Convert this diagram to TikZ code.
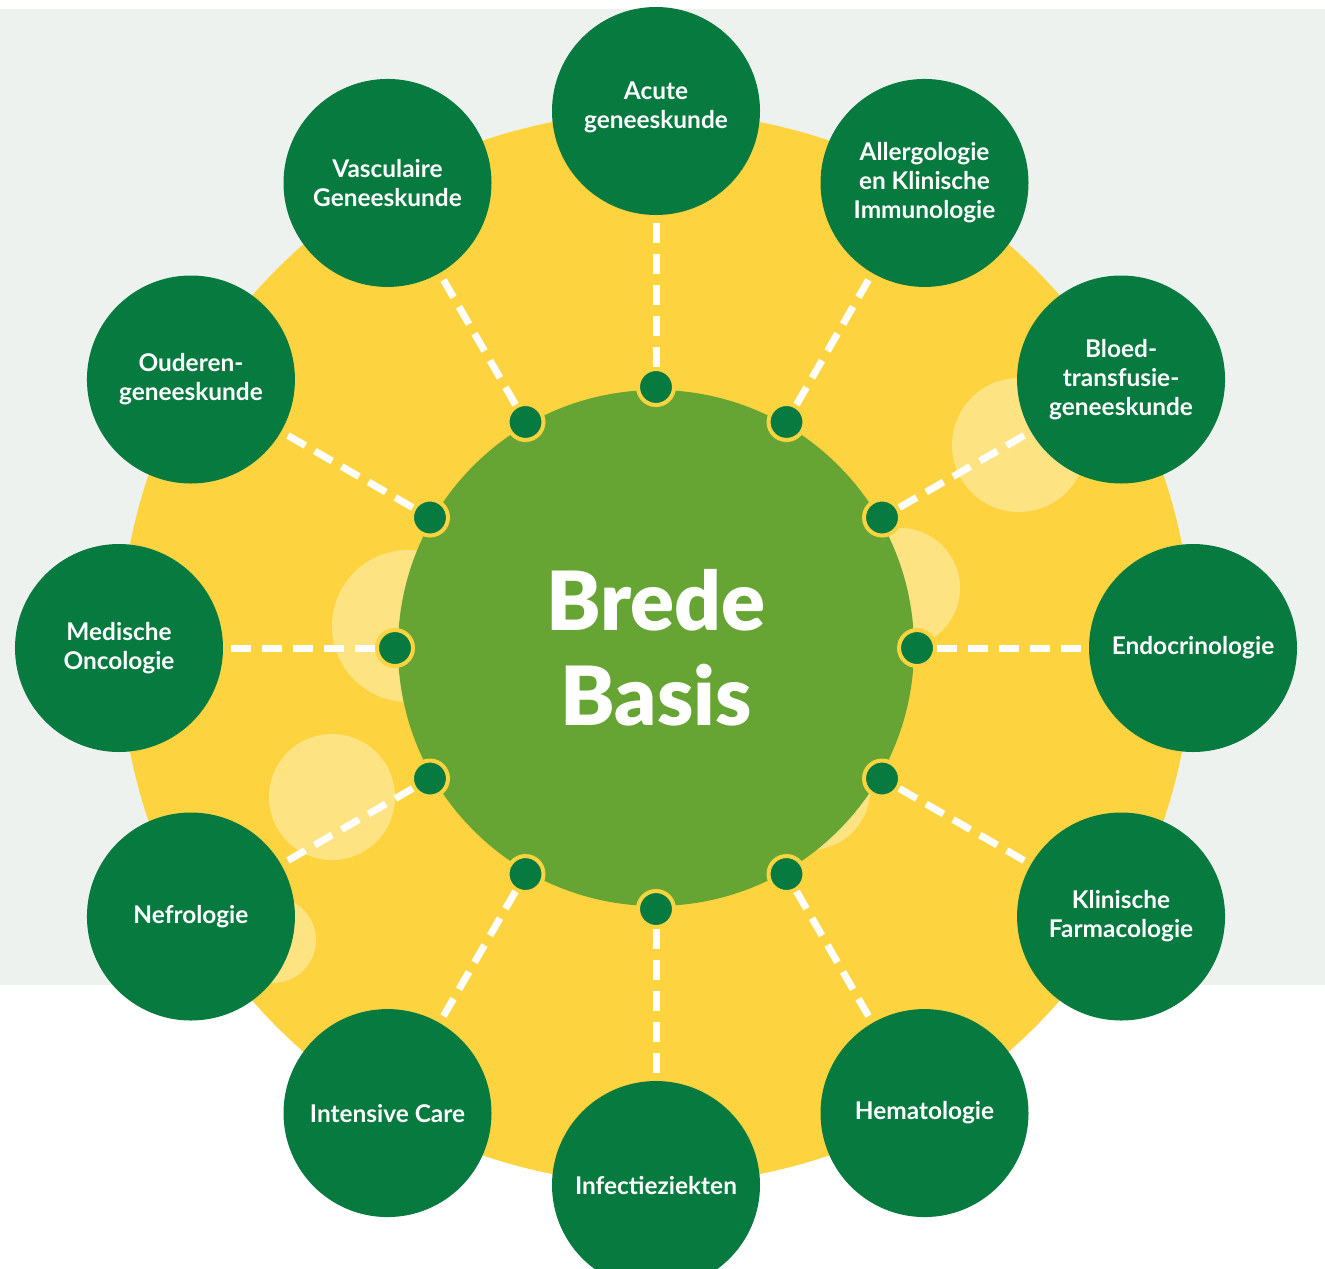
\documentclass[tikz,border=0pt]{standalone}
\usepackage{fontspec}
\setmainfont{Lato}
\newfontfamily\heavyface{Lato Black}
\definecolor{paperGrey}{HTML}{EEF2EE}
\definecolor{sunYellow}{HTML}{FDD440}
\definecolor{leafGreen}{HTML}{66A433}
\definecolor{darkGreen}{HTML}{077A40}

\begin{document}
\begin{tikzpicture}[x=1bp,y=1bp,
  spec/.style={circle,fill=darkGreen,minimum size=208bp,inner sep=0pt,text=white,align=center,font=\fontsize{24.5}{29}\selectfont\bfseries},
  hub/.style={circle,fill=darkGreen,draw=sunYellow,line width=4bp,minimum size=36bp,inner sep=0pt},
  link/.style={white,line width=7bp,dash pattern=on 20bp off 11bp},
  glow/.style={fill=white,fill opacity=0.35}]
% Canvas

\useasboundingbox (0,0) rectangle (1325,-1268);
\clip (0,0) rectangle (1325,-1268);
\fill[white] (0,0) rectangle (1325,-1268);
\fill[paperGrey] (0,-9) rectangle (1325,-985);

% Sun and glows
\fill[sunYellow] (656,-648) circle (536);
\fill[glow] (1019,-445) circle (67);
\fill[glow] (900,-588) circle (60);
\fill[glow] (408,-626) circle (76);
\fill[glow] (332,-797) circle (63);
\fill[glow] (273,-940) circle (43);
\fill[glow] (810,-790) circle (60);

\begin{scope}[shift={(656,-648)}]
\node (core) at (0,0)[circle,fill=leafGreen,minimum size=516bp,inner sep=0pt,text=white,align=center,font=\fontsize{82}{95}\selectfont\heavyface] {Brede\\Basis};

% Hubs on the core
\node (h1) at (90:261)[hub] {};
\node (h2) at (60:261)[hub] {};
\node (h3) at (30:261)[hub] {};
\node (h4) at (0:261)[hub] {};
\node (h5) at (-30:261)[hub] {};
\node (h6) at (-60:261)[hub] {};
\node (h7) at (-90:261)[hub] {};
\node (h8) at (-120:261)[hub] {};
\node (h9) at (-150:261)[hub] {};
\node (h10) at (180:261)[hub] {};
\node (h11) at (150:261)[hub] {};
\node (h12) at (120:261)[hub] {};

% Specialties
\node (acute) at (90:537)[spec] {Acute\\geneeskunde\\[-17bp]};
\node (allergo) at (60:537)[spec] {Allergologie\\en Klinische\\Immunologie};
\node (bloed) at (30:537)[spec] {Bloed-\\transfusie-\\geneeskunde};
\node (endo) at (0:537)[spec] {Endocrinologie};
\node (farma) at (-30:537)[spec] {Klinische\\Farmacologie};
\node (hemato) at (-60:537)[spec] {Hematologie};
\node (infect) at (-90:537)[spec] {Infectieziekten};
\node (ic) at (-120:537)[spec] {Intensive Care};
\node (nefro) at (-150:537)[spec] {Nefrologie};
\node (onco) at (180:537)[spec] {Medische\\Oncologie};
\node (ouderen) at (150:537)[spec] {Ouderen-\\geneeskunde};
\node (vasc) at (120:537)[spec] {Vasculaire\\Geneeskunde};
\end{scope}

% Dashed spokes, hub to specialty
\draw[link] (h1) -- (acute);
\draw[link] (h2) -- (allergo);
\draw[link] (h3) -- (bloed);
\draw[link] (h4) -- (endo);
\draw[link] (h5) -- (farma);
\draw[link] (h6) -- (hemato);
\draw[link] (h7) -- (infect);
\draw[link] (h8) -- (ic);
\draw[link] (h9) -- (nefro);
\draw[link] (h10) -- (onco);
\draw[link] (h11) -- (ouderen);
\draw[link] (h12) -- (vasc);

\end{tikzpicture}
\end{document}
